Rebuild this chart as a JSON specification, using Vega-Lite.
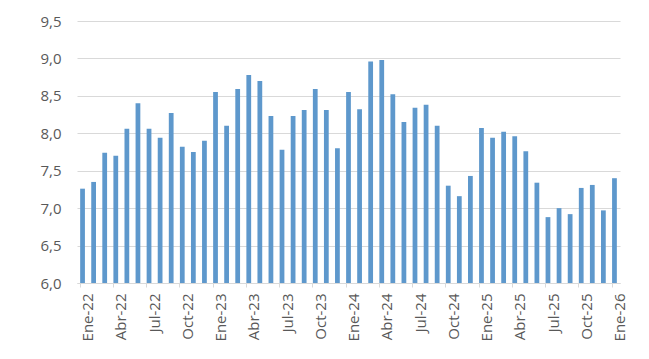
{
  "$schema": "https://vega.github.io/schema/vega-lite/v6.json",
  "autosize": "none",
  "width": 543,
  "height": 262,
  "padding": {"left": 77, "top": 21, "right": 29, "bottom": 76},
  "background": "white",
  "config": {
    "view": {"stroke": null},
    "font": "Open Sans",
    "axis": {"labelFont": "Open Sans", "labelFontSize": 15, "labelColor": "#595959"}
  },
  "data": {
    "values": [
      {"mes": "Ene-22", "valor": 7.26},
      {"mes": "Feb-22", "valor": 7.35},
      {"mes": "Mar-22", "valor": 7.74},
      {"mes": "Abr-22", "valor": 7.70},
      {"mes": "May-22", "valor": 8.06},
      {"mes": "Jun-22", "valor": 8.40},
      {"mes": "Jul-22", "valor": 8.06},
      {"mes": "Ago-22", "valor": 7.94},
      {"mes": "Sep-22", "valor": 8.27},
      {"mes": "Oct-22", "valor": 7.82},
      {"mes": "Nov-22", "valor": 7.75},
      {"mes": "Dic-22", "valor": 7.90},
      {"mes": "Ene-23", "valor": 8.55},
      {"mes": "Feb-23", "valor": 8.10},
      {"mes": "Mar-23", "valor": 8.59},
      {"mes": "Abr-23", "valor": 8.78},
      {"mes": "May-23", "valor": 8.70},
      {"mes": "Jun-23", "valor": 8.23},
      {"mes": "Jul-23", "valor": 7.78},
      {"mes": "Ago-23", "valor": 8.23},
      {"mes": "Sep-23", "valor": 8.31},
      {"mes": "Oct-23", "valor": 8.59},
      {"mes": "Nov-23", "valor": 8.31},
      {"mes": "Dic-23", "valor": 7.80},
      {"mes": "Ene-24", "valor": 8.55},
      {"mes": "Feb-24", "valor": 8.32},
      {"mes": "Mar-24", "valor": 8.96},
      {"mes": "Abr-24", "valor": 8.98},
      {"mes": "May-24", "valor": 8.52},
      {"mes": "Jun-24", "valor": 8.15},
      {"mes": "Jul-24", "valor": 8.34},
      {"mes": "Ago-24", "valor": 8.38},
      {"mes": "Sep-24", "valor": 8.10},
      {"mes": "Oct-24", "valor": 7.30},
      {"mes": "Nov-24", "valor": 7.16},
      {"mes": "Dic-24", "valor": 7.43},
      {"mes": "Ene-25", "valor": 8.07},
      {"mes": "Feb-25", "valor": 7.94},
      {"mes": "Mar-25", "valor": 8.02},
      {"mes": "Abr-25", "valor": 7.96},
      {"mes": "May-25", "valor": 7.76},
      {"mes": "Jun-25", "valor": 7.34},
      {"mes": "Jul-25", "valor": 6.88},
      {"mes": "Ago-25", "valor": 7.00},
      {"mes": "Sep-25", "valor": 6.92},
      {"mes": "Oct-25", "valor": 7.27},
      {"mes": "Nov-25", "valor": 7.31},
      {"mes": "Dic-25", "valor": 6.97},
      {"mes": "Ene-26", "valor": 7.40}
    ]
  },
  "mark": {"type": "bar", "color": "#5E98CC"},
  "encoding": {
    "x": {
      "field": "mes",
      "type": "ordinal",
      "sort": null,
      "scale": {"paddingInner": 0.57, "paddingOuter": 0.285},
      "axis": {
        "title": null,
        "values": ["Ene-22","Abr-22","Jul-22","Oct-22","Ene-23","Abr-23","Jul-23","Oct-23","Ene-24","Abr-24","Jul-24","Oct-24","Ene-25","Abr-25","Jul-25","Oct-25","Ene-26"],
        "labelAngle": -90,
        "labelAlign": "right",
        "labelBaseline": "middle",
        "bandPosition": 0,
        "labelOffset": 5.54,
        "tickSize": 4,
        "tickColor": "#d9d9d9",
        "domainColor": "#d9d9d9",
        "domainWidth": 1,
        "labelPadding": 6,
        "grid": false
      }
    },
    "y": {
      "field": "valor",
      "type": "quantitative",
      "scale": {"domain": [6, 9.5], "nice": false, "zero": false},
      "axis": {
        "title": null,
        "values": [6, 6.5, 7, 7.5, 8, 8.5, 9, 9.5],
        "labelExpr": "replace(format(datum.value, '.1f'), '.', ',')",
        "domain": false,
        "ticks": false,
        "labelPadding": 16,
        "gridColor": "#d9d9d9",
        "gridWidth": 1.2
      }
    },
    "y2": {"datum": 6}
  }
}
